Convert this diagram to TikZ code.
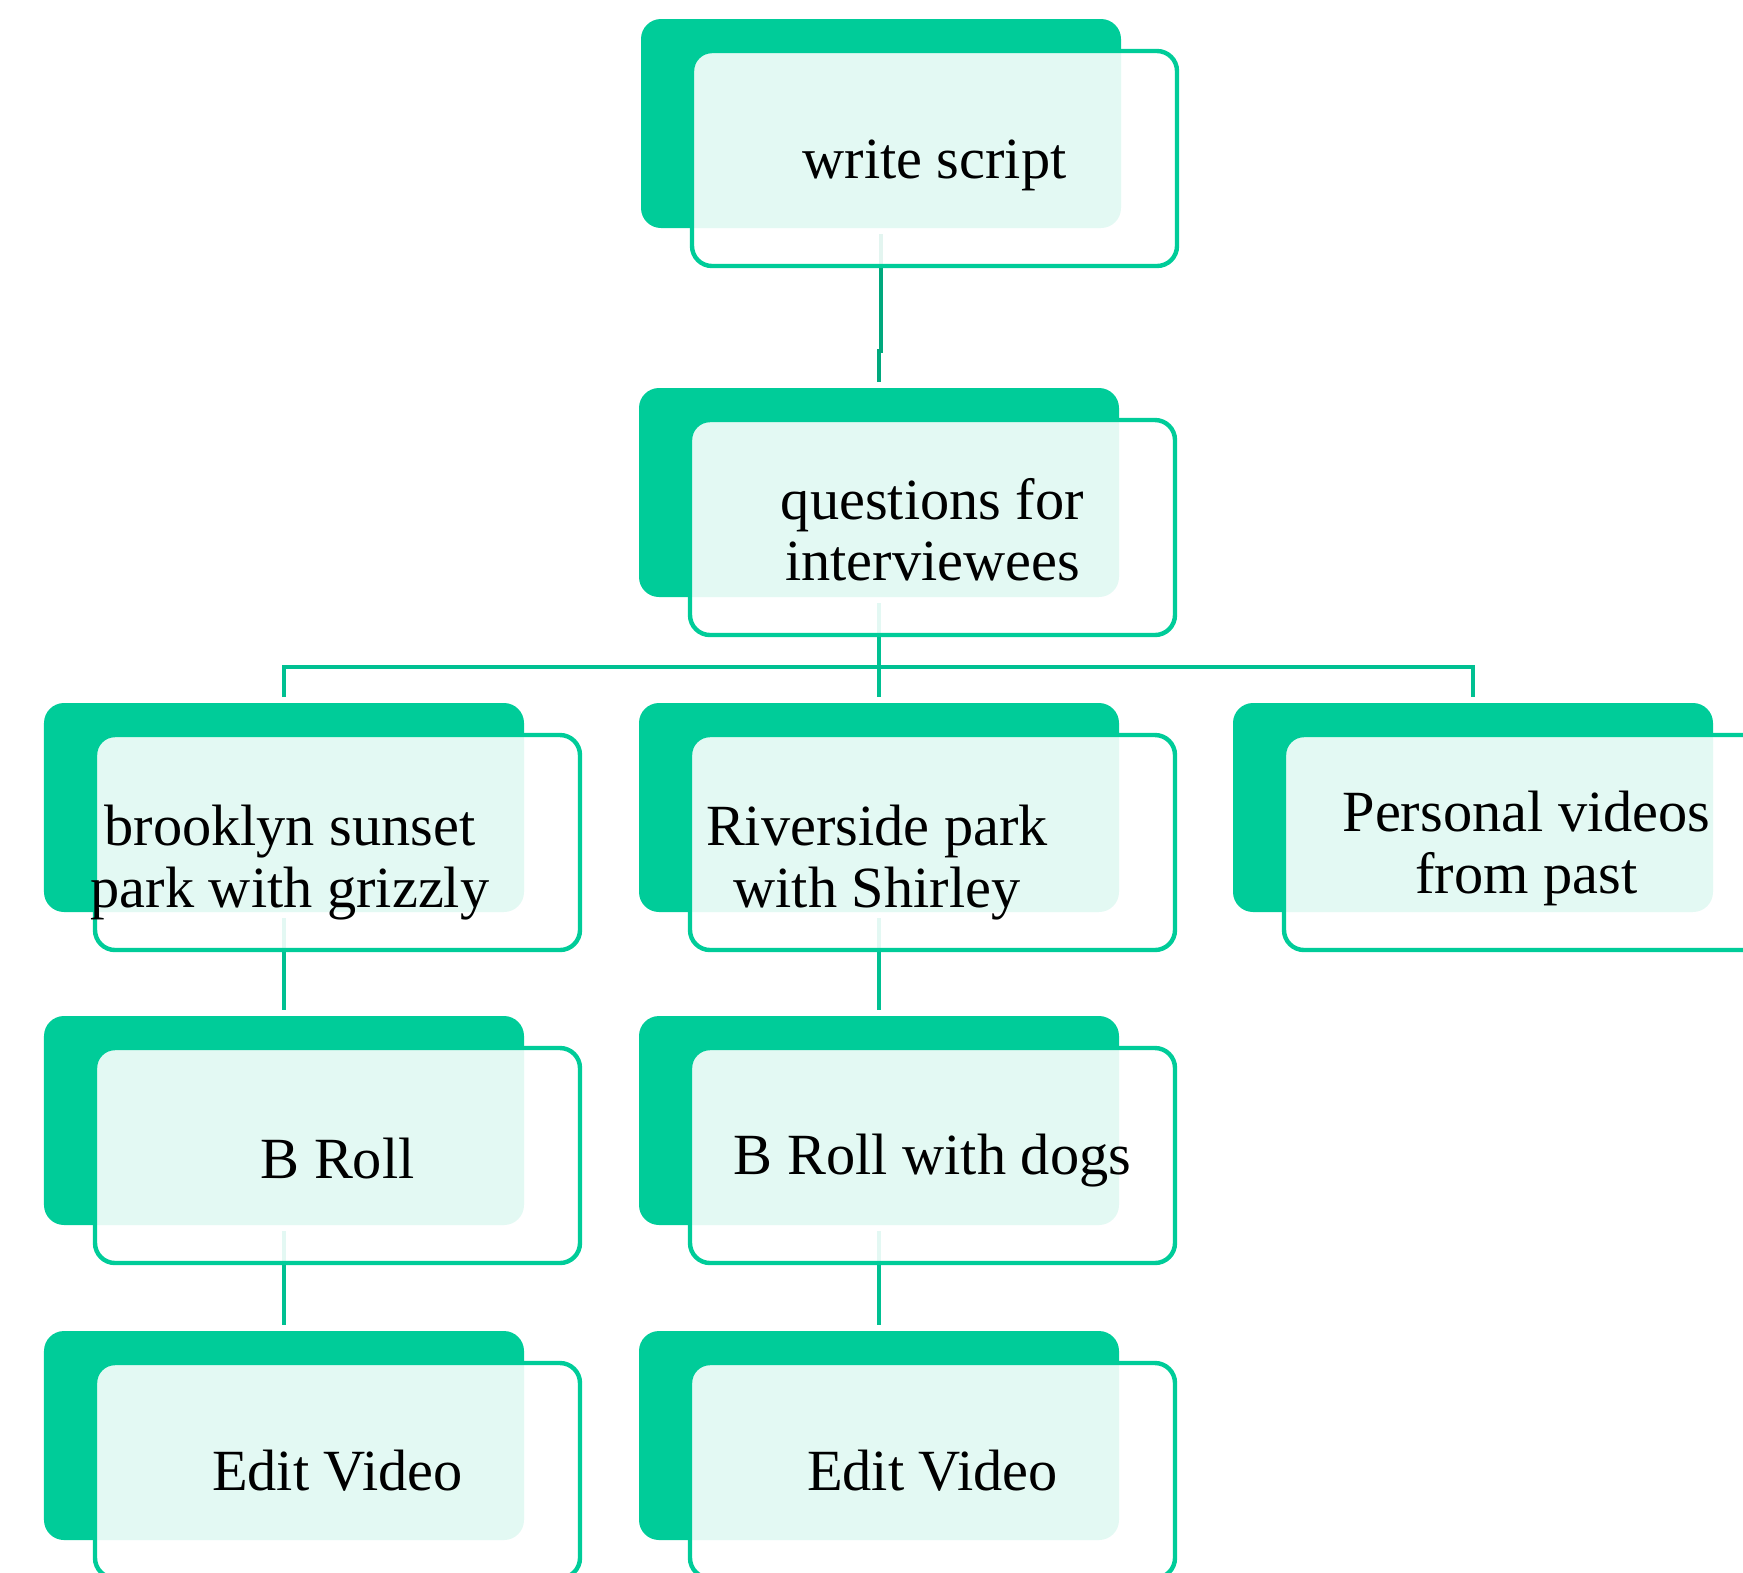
\documentclass[tikz,border=0pt]{standalone}
\usepackage{fontspec}
\setmainfont{Liberation Serif}
\usepackage{tikz}
\usetikzlibrary{positioning}

\definecolor{mint}{RGB}{0,204,153}
\definecolor{mintline}{RGB}{0,192,146}
\definecolor{mintdark}{RGB}{0,168,125}

\begin{document}
\begin{tikzpicture}[node distance=1.06cm,
    back/.style={rectangle,fill=mint,rounded corners=0.2cm,minimum width=4.8cm,minimum height=2.09cm,inner sep=0pt,outer sep=0pt},
    card/.style={rectangle,draw=mint,line width=1.25pt,fill=white,fill opacity=0.89,rounded corners=0.2cm,minimum width=4.85cm,minimum height=2.15cm,inner sep=0pt},
    caption/.style={align=center,font=\fontsize{16.6}{17.4}\selectfont},
    link/.style={draw=mintline,line width=1.3pt},
    gap/.style={yshift=#1}]
  \useasboundingbox (0,0) rectangle (17.43,-15.72);

  % back plates
  \node[back] (Script)    at (8.81,-1.235)                  {};
  \node[back] (Questions) [below=1.6cm of Script,xshift=-0.02cm] {};
  \node[back] (Riverside) [below=of Questions]           {};
  \node[back] (Brooklyn)  [left=1.15cm of Riverside]     {};
  \node[back] (Personal)  [right=1.14cm of Riverside]    {};
  \node[back] (BRollA)    [below=1.04cm of Brooklyn]     {};
  \node[back] (BRollB)    [below=1.04cm of Riverside]    {};
  \node[back] (EditA)     [below=of BRollA]              {};
  \node[back] (EditB)     [below=of BRollB]              {};

  % connectors
  \draw[link,draw=mintdark] ([gap=-0.06cm]Script.south) -- ++(0,-1.17) -| ([gap=0.06cm]Questions.north);
  \draw[link] ([gap=-0.06cm]Questions.south) -- ([gap=0.06cm]Riverside.north);
  \draw[link] ([gap=0.06cm]Brooklyn.north) |- ([gap=-0.7cm]Questions.south) -| ([gap=0.06cm]Personal.north);
  \draw[link] ([gap=-0.06cm]Brooklyn.south)  -- ([gap=0.06cm]BRollA.north);
  \draw[link] ([gap=-0.06cm]Riverside.south) -- ([gap=0.06cm]BRollB.north);
  \draw[link] ([gap=-0.06cm]BRollA.south)    -- ([gap=0.06cm]EditA.north);
  \draw[link] ([gap=-0.06cm]BRollB.south)    -- ([gap=0.06cm]EditB.north);

  % front cards
  \foreach \n in {Script,Questions,Brooklyn,Riverside,Personal,BRollA,BRollB,EditA,EditB}
    \node[card] (\n Card) at ([shift={(0.535,-0.35)}]\n.center) {};

  % texts
  \node[caption] at ([gap=-0.07cm]ScriptCard.center)  {write script};
  \node[caption] at ([gap=-0.02cm]QuestionsCard.center) {questions for\\interviewees};
  \node[caption] at ([shift={(-0.475,-0.2)}]BrooklynCard.center)  {brooklyn sunset\\park with grizzly};
  \node[caption] at ([shift={(-0.555,-0.2)}]RiversideCard.center) {Riverside park\\with Shirley};
  \node[caption] at ([gap=-0.06cm]PersonalCard.center) {Personal videos\\from past};
  \node[caption] at ([gap=-0.03cm]BRollACard.center)   {B Roll};
  \node[caption] at ([gap=-0.05cm]BRollBCard.center)   {B Roll with dogs};
  \node[caption] at (EditACard.center)                 {Edit Video};
  \node[caption] at (EditBCard.center)                 {Edit Video};
\end{tikzpicture}
\end{document}
